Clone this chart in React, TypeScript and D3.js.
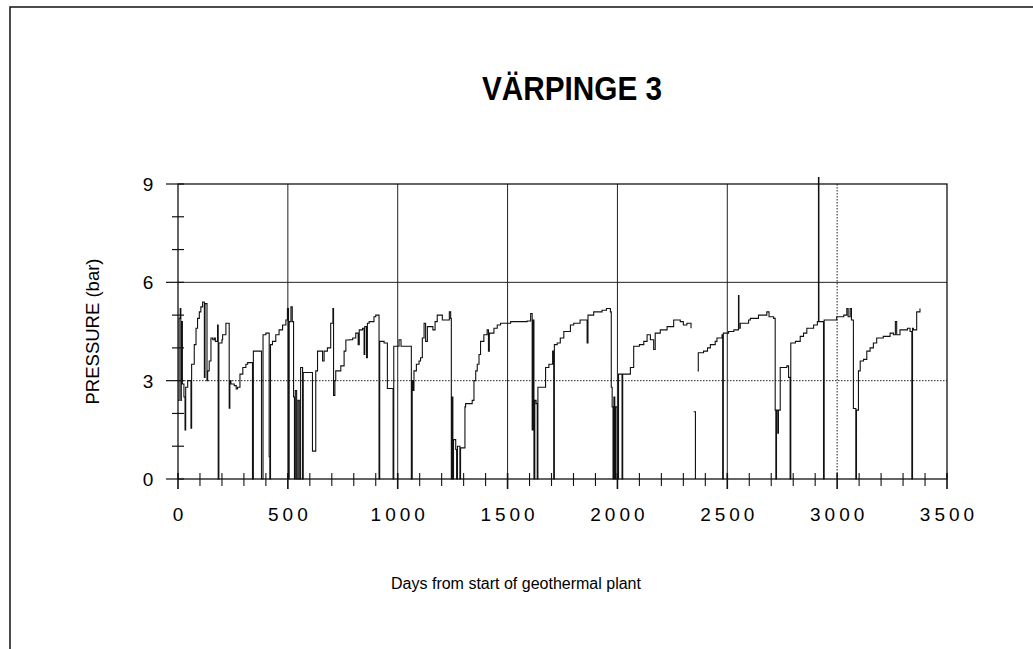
import * as d3 from "d3";
import React from "react";

// days from start / pressure (bar); null = gap in the record
const days = [
	0, 5, 10, 13, 15, 20, 27, 32, 35, 44, 59, 62, 74, 82, 89, 97, 104, 112, 120, 123,
	132, 135, 142, 150, 158, 165, 170, 180, 183, 186, 200, 203, 218, 233, 236, 241, 256, 265, 271, 282,
	295, 309, 317, 339, 343, 365, 380, 387, 400, 415, 418, 421, 430, 445, 460, 476, 491, 498, 503, 506,
	514, 520, 526, 530, 534, 540, 546, 552, 558, 567, 570, 597, 612, 627, 635, 650, 658, 665, 680, 695,
	705, 708, 714, 718, 741, 756, 764, 780, 795, 809, 820, 825, 840, 847, 850, 858, 862, 870, 892, 900,
	915, 918, 938, 953, 979, 982, 1006, 1015, 1062, 1066, 1070, 1074, 1085, 1097, 1104, 1112, 1120, 1127, 1135, 1160,
	1170, 1180, 1203, 1235, 1241, 1244, 1247, 1251, 1254, 1264, 1268, 1272, 1283, 1286, 1301, 1306, 1309, 1339, 1347, 1355,
	1362, 1370, 1377, 1392, 1407, 1413, 1417, 1438, 1453, 1468, 1514, 1559, 1589, 1605, 1612, 1616, 1620, 1624, 1630, 1635,
	1638, 1650, 1673, 1688, 1705, 1710, 1713, 1726, 1740, 1756, 1786, 1801, 1830, 1855, 1862, 1866, 1892, 1930, 1950, 1968,
	1972, 1976, 1980, 1984, 1988, 1991, 1998, 2005, 2021, 2024, 2059, 2074, 2100, 2120, 2135, 2150, 2165, 2172, 2180, 2195,
	2226, 2256, 2286, 2300, 2316, 2335, 2341, 2347, 2355, 2360, 2365, 2368, 2392, 2410, 2423, 2445, 2453, 2476, 2479, 2482,
	2506, 2530, 2551, 2553, 2559, 2597, 2605, 2635, 2642, 2665, 2680, 2690, 2711, 2718, 2721, 2724, 2730, 2733, 2741, 2771,
	2779, 2786, 2789, 2810, 2832, 2847, 2862, 2893, 2910, 2915, 2917, 2938, 2941, 2998, 3030, 3044, 3050, 3059, 3065, 3074,
	3085, 3088, 3097, 3105, 3120, 3135, 3150, 3165, 3180, 3210, 3241, 3256, 3265, 3271, 3286, 3320, 3332, 3340, 3343, 3347,
	3362, 3377,
];
const pressure: (number | null)[] = [
	2.4, 4.9, 5.2, 2.4, 4.8, 2.9, 2.5, 1.5, 2.8, 3.0, 1.55, 3.5, 4.1, 4.6, 4.9, 5.1, 5.25, 5.4, 3.1, 5.35,
	3.0, 3.3, 3.6, 4.3, 4.25, 4.3, 4.2, 4.7, 0, 4.15, 4.25, 4.4, 4.75, 2.16, 3.0, 2.9, 2.85, 2.75, 2.8, 3.2,
	3.4, 3.5, 3.55, 0, 3.9, 3.9, 0, 4.4, 4.45, 0.68, 0, 4.1, 4.2, 4.4, 4.55, 4.7, 4.85, 5.2, 0, 4.8,
	5.25, 4.8, 2.5, 0, 2.7, 0, 2.4, 0, 3.4, 0, 3.25, 3.25, 0.85, 3.3, 3.9, 3.9, 3.6, 3.9, 4.0, 4.75,
	5.2, 2.55, 3.0, 3.3, 3.45, 3.9, 4.24, 4.25, 4.3, 4.45, 4.1, 4.55, 4.6, 3.8, 4.65, 3.7, 4.75, 4.8, 4.95, 5.0,
	0, 4.2, 4.15, 2.76, 0, 4.05, 4.25, 4.05, 0, 3.0, 2.7, 3.3, 3.5, 3.6, 3.7, 4.3, 4.75, 4.2, 4.65, 4.55,
	4.8, 5.0, 4.85, 5.1, 4.9, 0, 2.5, 0, 1.2, 0.9, 0, 1.0, 0, 0.95, 0.95, 2.2, 2.3, 2.4, 3.0, 3.3,
	3.5, 3.8, 4.2, 4.4, 4.55, 3.9, 4.45, 4.6, 4.7, 4.75, 4.8, 4.8, 4.82, 5.05, 1.5, 4.85, 0, 2.4, 2.3, 0,
	2.8, 2.8, 3.4, 3.5, 3.9, 0, 4.1, 4.15, 4.3, 4.5, 4.7, 4.75, 4.85, 4.85, 4.15, 5.0, 5.1, 5.15, 5.2, 5.1,
	2.8, 2.2, 0, 2.5, 0, 2.2, 0, 3.2, 0, 3.2, 3.4, 4.05, 4.1, 4.2, 4.4, 4.25, 3.95, 4.45, 4.45, 4.55,
	4.65, 4.85, 4.8, 4.7, 4.75, 4.6, null, 2.05, 0, null, 3.3, 3.85, 3.9, 4.0, 4.1, 4.2, 4.3, 4.4, 0, 4.45,
	4.5, 4.55, 5.6, 4.6, 4.75, 4.85, 4.9, 4.9, 5.0, 5.0, 5.1, 4.95, 4.9, 2.1, 0, 2.1, 1.4, 2.1, 3.4, 3.45,
	3.1, 0, 4.15, 4.2, 4.35, 4.45, 4.6, 4.7, 4.8, 9.2, 4.8, 0, 4.85, 4.95, 5.0, 5.2, 4.95, 5.2, 4.85, 2.15,
	0, 2.1, 3.3, 3.6, 3.65, 3.9, 4.0, 4.15, 4.3, 4.35, 4.45, 4.4, 4.8, 4.4, 4.55, 4.6, 4.5, 0, 4.6, 4.55,
	5.1, 5.2,
];

const xTickLabels = [0, 500, 1000, 1500, 2000, 2500, 3000, 3500];
const yTickLabels = [0, 3, 6, 9];
const xGridSolid = [500, 1000, 1500, 2000, 2500];
const xGridDotted = [3000];

const plot = { left: 178, right: 947, top: 184, bottom: 479 };
const font = "'Liberation Sans', Arial, Helvetica, sans-serif";

const App = () => {
	const x = d3.scaleLinear().domain([0, 3500]).range([plot.left, plot.right]);
	const y = d3.scaleLinear().domain([0, 9]).range([plot.bottom, plot.top]);

	const points = days.map((d, i) => [d, pressure[i]] as [number, number | null]);
	const line = d3
		.line<[number, number | null]>()
		.defined((p) => p[1] !== null)
		.x((p) => x(p[0]))
		.y((p) => y(p[1] as number))
		.curve(d3.curveStepAfter);

	const xMinor = d3.range(0, 3501, 100);
	const yMinor = d3.range(0, 10, 1);

	return (
		<svg
			width={1033}
			height={649}
			style={{ position: "absolute", left: 0, top: 0, background: "white" }}>
			{/* page frame */}
			<path d="M10,649 V7 H1033" fill="none" stroke="#111" strokeWidth={1.5} />

			<text
				x={572}
				y={100}
				textAnchor="middle"
				fontFamily={font}
				fontWeight="bold"
				fontSize={34}
				textLength={180}
				lengthAdjust="spacingAndGlyphs">
				VÄRPINGE 3
			</text>

			{/* grid */}
			{xGridSolid.map((d) => (
				<line key={"gx" + d} x1={x(d)} x2={x(d)} y1={plot.top} y2={plot.bottom} stroke="#222" strokeWidth={1} />
			))}
			{xGridDotted.map((d) => (
				<line key={"gd" + d} x1={x(d)} x2={x(d)} y1={plot.top} y2={plot.bottom} stroke="#222" strokeWidth={1} strokeDasharray="1.5,1.5" />
			))}
			<line x1={plot.left} x2={plot.right} y1={y(6)} y2={y(6)} stroke="#222" strokeWidth={1} />
			<line x1={plot.left} x2={plot.right} y1={y(3)} y2={y(3)} stroke="#222" strokeWidth={1} strokeDasharray="1.5,1.5" />

			{/* plot box */}
			<rect x={plot.left} y={plot.top} width={plot.right - plot.left} height={plot.bottom - plot.top} fill="none" stroke="#111" strokeWidth={1.3} />

			{/* data */}
			<path d={line(points) || ""} fill="none" stroke="#111" strokeWidth={1.1} />

			{/* x ticks */}
			{xMinor.map((d) => {
				const major = d % 500 === 0;
				return (
					<line key={"xt" + d} x1={x(d)} x2={x(d)} y1={plot.bottom - 6} y2={plot.bottom + (major ? 10 : 7)} stroke="#111" strokeWidth={major ? 1.6 : 1.1} />
				);
			})}
			{/* y ticks */}
			{yMinor.map((d) => {
				const major = d % 3 === 0;
				return (
					<line key={"yt" + d} x1={plot.left - (major ? 12 : 6)} x2={plot.left + 6} y1={y(d)} y2={y(d)} stroke="#111" strokeWidth={1.2} />
				);
			})}

			{xTickLabels.map((d) => (
				<text key={"xl" + d} x={x(d) + 2} y={521} textAnchor="middle" fontFamily={font} fontSize={19} letterSpacing={4}>
					{d}
				</text>
			))}
			{yTickLabels.map((d) => (
				<text key={"yl" + d} x={148} y={y(d) + 7} textAnchor="middle" fontFamily={font} fontSize={19}>
					{d}
				</text>
			))}

			<text
				transform={`translate(99, ${(plot.top + plot.bottom) / 2}) rotate(-90)`}
				textAnchor="middle"
				fontFamily={font}
				fontSize={18.5}>
				PRESSURE (bar)
			</text>
			<text x={516} y={589} textAnchor="middle" fontFamily={font} fontSize={16}>
				Days from start of geothermal plant
			</text>
		</svg>
	);
};

export default App;
